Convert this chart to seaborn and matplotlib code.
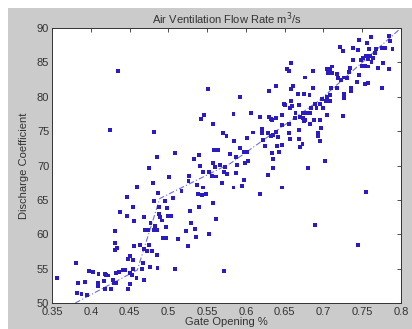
import matplotlib
matplotlib.use("Agg")
import matplotlib.pyplot as plt
from matplotlib.patches import Rectangle
import seaborn as sns
import pandas as pd

# ---- data ----
gate_opening = [
    # lower region
    0.356, 0.381, 0.382, 0.384, 0.388, 0.392, 0.3955, 0.398, 0.403, 0.410, 0.409, 0.409,
    0.417, 0.418, 0.420, 0.422, 0.418, 0.426, 0.429, 0.430, 0.433, 0.433, 0.436, 0.441,
    0.444, 0.438, 0.431, 0.431, 0.434, 0.431, 0.447, 0.454, 0.456, 0.456, 0.448, 0.451,
    0.454, 0.450, 0.454, 0.453, 0.450, 0.448, 0.459, 0.463, 0.466, 0.467, 0.469, 0.470,
    0.469, 0.469, 0.472, 0.474, 0.475, 0.476, 0.477, 0.479, 0.481, 0.483, 0.485, 0.485,
    0.486, 0.481, 0.488, 0.488, 0.489, 0.492, 0.493, 0.497, 0.497, 0.498, 0.499, 0.504,
    0.508, 0.512, 0.496, 0.523, 0.525, 0.528, 0.529, 0.534, 0.536, 0.540, 0.553, 0.558,
    0.562, 0.572, 0.689, 0.745,
    # middle region
    0.425, 0.482, 0.485, 0.508, 0.475, 0.480, 0.460, 0.447, 0.487, 0.501, 0.506, 0.517,
    0.526, 0.527, 0.5335, 0.540, 0.541, 0.542, 0.546, 0.558, 0.559, 0.5645, 0.557, 0.560,
    0.556, 0.562, 0.552, 0.545, 0.537, 0.545, 0.538, 0.544, 0.549, 0.570, 0.575, 0.569,
    0.572, 0.576, 0.5795, 0.584, 0.585, 0.587, 0.588, 0.584, 0.592, 0.597, 0.602, 0.599,
    0.603, 0.598, 0.595, 0.606, 0.609, 0.602, 0.618, 0.6205, 0.6205, 0.622, 0.625, 0.630,
    0.632, 0.634, 0.639, 0.632, 0.635, 0.628, 0.634, 0.6355, 0.628, 0.635, 0.618, 0.640,
    0.643, 0.647, 0.641, 0.639, 0.646, 0.646, 0.650, 0.647, 0.655, 0.656, 0.657, 0.657,
    0.663, 0.664, 0.668, 0.670, 0.669, 0.669, 0.670, 0.673, 0.674, 0.674, 0.675, 0.680,
    0.693, 0.696, 0.702, 0.755, 0.587, 0.573, 0.567,
    # upper-left region
    0.4355, 0.551, 0.593, 0.630, 0.639, 0.653, 0.656, 0.658, 0.658, 0.661, 0.667, 0.675,
    0.658, 0.682, 0.649, 0.659,
    # upper-right region
    0.746, 0.761, 0.784, 0.786, 0.756, 0.721, 0.725, 0.738, 0.744, 0.759, 0.768, 0.776,
    0.779, 0.789, 0.755, 0.760, 0.766, 0.751, 0.749, 0.758, 0.764, 0.738, 0.762, 0.754,
    0.750, 0.758, 0.734, 0.770, 0.777, 0.784, 0.704, 0.708, 0.711, 0.706, 0.711, 0.718,
    0.733, 0.730, 0.746, 0.743, 0.753, 0.758, 0.775, 0.687, 0.676, 0.719, 0.723, 0.727,
    0.710, 0.717, 0.686, 0.735, 0.736, 0.727, 0.727, 0.708, 0.704, 0.698, 0.703, 0.708,
    0.696, 0.689, 0.691, 0.684, 0.700, 0.683, 0.678, 0.676, 0.704, 0.725, 0.696, 0.688,
    0.697, 0.693, 0.683,
]
discharge_coef = [
    # lower region
    53.6, 55.8, 51.4, 52.96, 51.3, 53.05, 51.1, 54.7, 54.5, 54.2, 52.96, 52.4,
    53.2, 54.2, 54.1, 54.0, 51.99, 51.99, 53.4, 52.9, 52.96, 54.4, 54.5, 54.8,
    54.8, 63.2, 60.5, 58.7, 58.0, 57.7, 62.65, 63.9, 61.97, 58.3, 56.4, 56.9,
    56.2, 54.3, 55.0, 54.1, 52.7, 52.0, 53.6, 58.5, 54.9, 55.8, 62.5, 60.6,
    57.8, 53.3, 57.6, 60.6, 58.5, 55.3, 61.7, 57.6, 60.6, 61.2, 60.6, 57.0,
    55.1, 64.8, 64.0, 63.0, 62.5, 62.0, 59.5, 59.5, 61.1, 63.8, 62.65, 62.7,
    54.9, 59.3, 64.8, 60.5, 58.3, 63.4, 61.6, 60.7, 59.6, 64.0, 60.0, 64.5,
    62.2, 54.6, 61.3, 58.5,
    # middle region
    75.12, 74.83, 71.29, 71.77, 69.59, 67.5, 66.83, 65.37, 66.05, 68.28, 65.3, 66.3,
    67.8, 68.5, 70.9, 71.5, 69.9, 76.8, 77.3, 76.1, 72.26, 72.2, 70.4, 69.8,
    68.5, 68.4, 69.1, 69.1, 67.2, 66.8, 65.9, 65.7, 65.9, 74.7, 74.3, 67.5,
    69.0, 68.8, 71.7, 77.5, 73.6, 71.2, 70.1, 66.8, 72.5, 71.9, 71.9, 70.4,
    70.7, 67.9, 67.0, 77.7, 74.8, 74.0, 77.0, 75.3, 74.7, 73.7, 72.9, 77.0,
    76.7, 76.6, 76.9, 74.3, 74.5, 74.7, 71.8, 71.0, 68.6, 69.6, 65.9, 72.8,
    72.0, 73.0, 74.2, 74.9, 75.9, 77.4, 78.8, 66.8, 74.7, 76.1, 78.3, 73.8,
    76.9, 77.6, 78.8, 77.0, 75.1, 73.8, 72.7, 73.1, 77.6, 76.9, 76.5, 69.6,
    74.3, 73.6, 70.6, 66.2, 68.9, 69.8, 70.1,
    # upper-left region
    83.7, 81.1, 80.0, 80.9, 81.5, 84.0, 83.7, 84.9, 81.1, 81.5, 80.35, 80.35,
    79.4, 80.3, 78.9, 78.6,
    # upper-right region
    88.26, 88.65, 88.84, 88.1, 87.8, 87.3, 86.7, 87.05, 86.8, 86.95, 86.95, 87.1,
    87.1, 86.9, 85.98, 85.98, 86.3, 85.7, 85.35, 85.5, 85.7, 85.35, 85.1, 84.5,
    84.5, 84.4, 84.2, 84.2, 84.9, 84.1, 84.1, 84.1, 84.4, 83.4, 83.4, 83.27,
    83.65, 82.7, 83.17, 82.2, 81.8, 81.96, 81.23, 83.75, 82.8, 82.7, 82.4, 82.8,
    81.3, 81.3, 81.3, 81.3, 80.8, 80.35, 79.8, 80.2, 80.0, 79.7, 79.4, 79.4,
    78.9, 78.9, 78.3, 78.3, 78.4, 77.6, 77.6, 76.6, 77.35, 77.25, 76.6, 76.6,
    75.5, 74.7, 76.0,
]
fit_x = [0.38, 0.46, 0.489, 0.58, 0.695, 0.80]
fit_y = [50.0, 54.8, 65.2, 70.3, 79.5, 90.0]

x_ticks = [0.35, 0.4, 0.45, 0.5, 0.55, 0.6, 0.65, 0.7, 0.75, 0.8]
x_tick_labels = ["0.35", "0.4", "0.45", "0.5", "0.55", "0.6", "0.65", "0.7", "0.75", "0.8"]
y_ticks = [50, 55, 60, 65, 70, 75, 80, 85, 90]

scatter_df = pd.DataFrame({"gate": gate_opening, "cd": discharge_coef})
fit_df = pd.DataFrame({"gate": fit_x, "cd": fit_y})

# ---- styling ----
sns.set_theme(style="white")
plt.rcParams["font.family"] = ["Liberation Sans", "DejaVu Sans"]

W, H = 412, 329
fig = plt.figure(figsize=(W / 100, H / 100), dpi=100)
fig.patch.set_facecolor("white")
fig.add_artist(Rectangle((8 / W, 0), 1 - 8 / W, 1 - 8 / H, transform=fig.transFigure,
                         facecolor="#cbcbcb", edgecolor="none", zorder=-5))

ax = fig.add_axes([52 / W, 1 - 303 / H, (401 - 52) / W, (303 - 28) / H])
ax.set_facecolor("white")

sns.lineplot(data=fit_df, x="gate", y="cd", ax=ax, sort=False, estimator=None,
             color="#7070d8", linewidth=0.8, linestyle=(0, (5, 2, 1, 2)), zorder=2)
sns.scatterplot(data=scatter_df, x="gate", y="cd", ax=ax, marker="s", s=8,
                color="#2a1cc0", edgecolor="none", linewidth=0, zorder=3)

ax.set_xlim(0.35, 0.8)
ax.set_ylim(50, 90)
ax.set_xticks(x_ticks)
ax.set_xticklabels(x_tick_labels)
ax.set_yticks(y_ticks)
ax.tick_params(axis="both", direction="in", length=3, width=0.6, color="#333333",
               labelsize=8, labelcolor="#333333", top=True, right=True)
ax.tick_params(axis="x", pad=3)
ax.tick_params(axis="y", pad=2)
for sp in ax.spines.values():
    sp.set_color("#333333")
    sp.set_linewidth(0.7)
    sp.set_visible(True)

ax.set_xlabel("Gate Opening %", fontsize=8, color="#333333", labelpad=0)
ax.set_ylabel("Discharge Coefficient", fontsize=8, color="#333333", labelpad=6)
ax.set_title("Air Ventilation Flow Rate m$^3$/s", fontsize=8, color="#333333", pad=3)

fig.savefig("out.png", dpi=100)
